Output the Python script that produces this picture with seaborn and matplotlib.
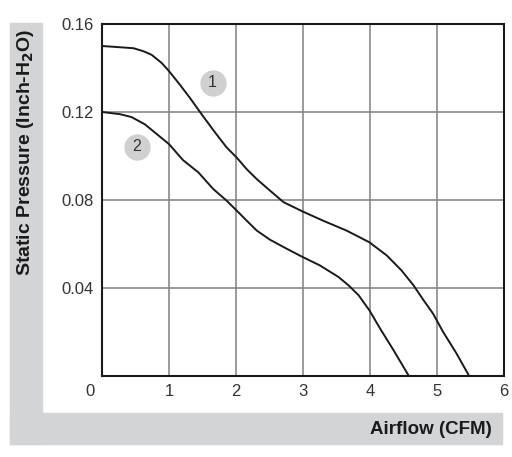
import matplotlib
matplotlib.use('Agg')
import matplotlib.pyplot as plt
import seaborn as sns
from matplotlib.patches import Rectangle

# кривые вентилятора: расход (CFM) и статическое давление (дюймы вод. ст.)
airflow_1 = [0.0, 0.47, 0.62, 0.74, 0.89, 1.0, 1.16, 1.31, 1.51, 1.69, 1.86, 2.01, 2.16, 2.31,
             2.51, 2.71, 3.0, 3.3, 3.65, 3.99, 4.25, 4.47, 4.65, 4.8, 4.94, 5.09, 5.29, 5.48]
pressure_1 = [0.150, 0.149, 0.1476, 0.146, 0.1423, 0.1386, 0.1325, 0.1265, 0.118, 0.1106, 0.1039,
              0.0993, 0.094, 0.0895, 0.0842, 0.079, 0.0747, 0.0706, 0.0661, 0.0608, 0.0548,
              0.048, 0.0412, 0.0344, 0.0284, 0.0201, 0.0103, 0.0]

airflow_2 = [0.0, 0.27, 0.44, 0.64, 0.82, 1.0, 1.21, 1.44, 1.66, 1.86, 2.01, 2.16, 2.31, 2.51,
             2.76, 3.0, 3.25, 3.53, 3.68, 3.83, 3.99, 4.15, 4.35, 4.58]
pressure_2 = [0.120, 0.119, 0.1177, 0.1144, 0.1099, 0.1054, 0.0981, 0.0925, 0.085, 0.0797,
              0.0752, 0.0706, 0.0661, 0.0619, 0.0578, 0.054, 0.0503, 0.045, 0.0412, 0.0367,
              0.0299, 0.0216, 0.0118, 0.0]

curve_labels = ['1', '2']
label_x = [1.65, 0.52]
label_y = [0.1333, 0.1042]

x_ticks = [0, 1, 2, 3, 4, 5, 6]
y_ticks = [0.04, 0.08, 0.12, 0.16]
y_tick_labels = ['0.04', '0.08', '0.12', '0.16']

sns.set_style('white')
plt.rcParams['font.family'] = ['Liberation Sans', 'DejaVu Sans']

fig = plt.figure(figsize=(5.12, 4.57), dpi=100)
W, H = 512, 457

# серая L-образная подложка под подписями осей
band = '#d3d4d6'
fig.add_artist(Rectangle((10 / W, 1 - 444 / H), 32 / W, (444 - 23) / H,
                         transform=fig.transFigure, color=band, zorder=0))
fig.add_artist(Rectangle((10 / W, 1 - 444 / H), (502 - 10) / W, 31 / H,
                         transform=fig.transFigure, color=band, zorder=0))

ax = fig.add_axes([102 / W, 1 - 376 / H, 402 / W, 352 / H])

sns.lineplot(x=airflow_1, y=pressure_1, ax=ax, color='#1a1a1a', linewidth=1.4, sort=False)
sns.lineplot(x=airflow_2, y=pressure_2, ax=ax, color='#1a1a1a', linewidth=1.4, sort=False)

# кружки с номерами кривых
ax.scatter(label_x, label_y, s=360, color='#d0d0d0', zorder=3, linewidths=0)
for lbl, lx, ly in zip(curve_labels, label_x, label_y):
    ax.text(lx, ly, lbl, ha='center', va='center', fontsize=11.5, color='#333333', zorder=4)

ax.set_xlim(0, 6)
ax.set_ylim(0, 0.16)
ax.set_xticks(x_ticks)
ax.set_xticklabels([''] + [str(t) for t in x_ticks[1:]])
ax.set_yticks(y_ticks)
ax.set_yticklabels(y_tick_labels)
ax.tick_params(length=0, labelsize=12, labelcolor='#333333')
ax.tick_params(axis='x', pad=6)
ax.tick_params(axis='y', pad=6)
ax.annotate('0', xy=(0, 0), xytext=(-12, -15), textcoords='offset pixels',
            ha='center', va='center', fontsize=12, color='#333333', annotation_clip=False)

ax.grid(True, color='#808080', linewidth=1.1)
for s in ax.spines.values():
    s.set_color('#1a1a1a')
    s.set_linewidth(1.5)
ax.set_xlabel('')
ax.set_ylabel('')

fig.text(26 / W, 1 - 152 / H, r'Static Pressure (Inch-H$_\mathbf{2}$O)', rotation=90,
         ha='center', va='center', fontsize=14, fontweight='bold', color='#1a1a1a')
fig.text(492 / W, 1 - 430 / H, 'Airflow (CFM)', ha='right', va='center',
         fontsize=13.5, fontweight='bold', color='#1a1a1a')

fig.savefig('out.png', dpi=100)
